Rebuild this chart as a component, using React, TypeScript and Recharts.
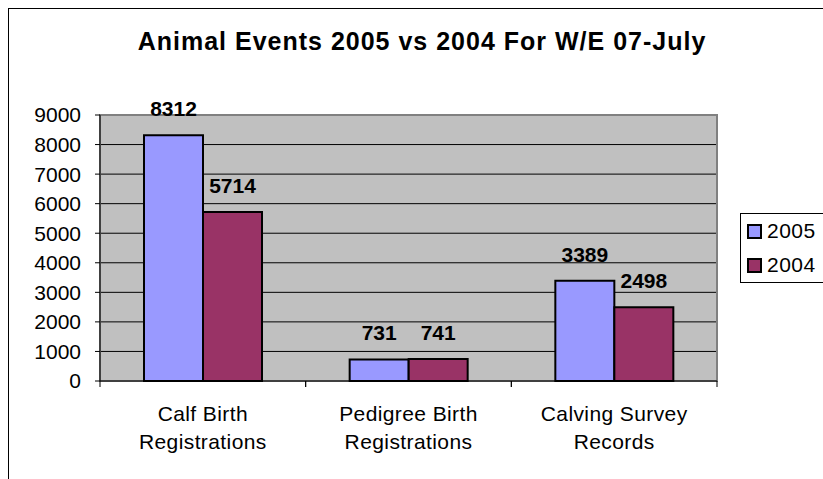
import React from "react";
import {
  BarChart,
  Bar,
  XAxis,
  YAxis,
  CartesianGrid,
  ReferenceArea,
  LabelList,
  Legend,
} from "recharts";

// values
const categories = [
  "Calf Birth\nRegistrations",
  "Pedigree Birth\nRegistrations",
  "Calving Survey\nRecords",
];
const values2005 = [8312, 731, 3389];
const values2004 = [5714, 741, 2498];
const seriesNames = ["2005", "2004"];
const seriesColors = ["#9999FF", "#993366"];
const yTicks = [0, 1000, 2000, 3000, 4000, 5000, 6000, 7000, 8000, 9000];

const data = categories.map((category, i) => ({
  category,
  y2005: values2005[i],
  y2004: values2004[i],
}));

const FONT = '"Liberation Sans", Arial, Helvetica, sans-serif';
const CHART_W = 826;
const CHART_H = 470;
const MARGIN = { top: 106, right: 118, bottom: 0, left: 0 };
const Y_AXIS_W = 91;
const PLOT_W = CHART_W - MARGIN.right - MARGIN.left - Y_AXIS_W;

// category label in two lines, with tick marks at the band edges
function CategoryTick(props: any) {
  const { x, y, payload } = props;
  const half = payload?.offset || PLOT_W / categories.length / 2;
  const lines = String(payload.value).split("\n");
  return (
    <g>
      <line x1={x - half} x2={x - half} y1={y} y2={y + 6} stroke="#000" />
      <line x1={x + half} x2={x + half} y1={y} y2={y + 6} stroke="#000" />
      <text
        x={x}
        y={y}
        textAnchor="middle"
        fontSize={21}
        fontFamily={FONT}
        letterSpacing={0.4}
        fill="#000"
      >
        {lines.map((line, i) => (
          <tspan key={i} x={x} y={y + 40 + i * 28}>
            {line}
          </tspan>
        ))}
      </text>
    </g>
  );
}

function LegendBox() {
  return (
    <div
      style={{
        boxSizing: "border-box",
        width: 100,
        border: "1px solid #000",
        background: "#fff",
        paddingLeft: 6,
        fontFamily: FONT,
        fontSize: 21,
        letterSpacing: 0.5,
        color: "#000",
      }}
    >
      {seriesNames.map((name, i) => (
        <div key={name} style={{ height: 34, display: "flex", alignItems: "center" }}>
          <span
            style={{
              display: "inline-block",
              flex: "none",
              width: 11,
              height: 11,
              border: "2px solid #000",
              background: seriesColors[i],
              marginRight: 5,
            }}
          />
          <span style={{ lineHeight: "34px", whiteSpace: "nowrap" }}>{name}</span>
        </div>
      ))}
    </div>
  );
}

export default function App() {
  return (
    <div
      style={{
        position: "fixed",
        left: 8,
        top: 8,
        width: 815,
        height: 471,
        boxSizing: "border-box",
        borderLeft: "1px solid #000",
        borderTop: "1px solid #000",
        overflow: "hidden",
        background: "#fff",
      }}
    >
      <div
        style={{
          position: "absolute",
          left: 0,
          top: 19,
          width: CHART_W,
          textAlign: "center",
          fontFamily: FONT,
          fontWeight: "bold",
          fontSize: 25,
          lineHeight: 1.117,
          letterSpacing: 1,
          color: "#000",
          zIndex: 2,
        }}
      >
        Animal Events 2005 vs 2004 For W/E 07-July
      </div>
      <BarChart
        width={CHART_W}
        height={CHART_H}
        data={data}
        margin={MARGIN}
        barCategoryGap={44}
        barGap={0}
      >
        <CartesianGrid
          vertical={false}
          stroke="#000"
          strokeOpacity={1}
          fill="#C0C0C0"
          fillOpacity={1}
        />
        <ReferenceArea
          y1={0}
          y2={9000}
          fill="none"
          stroke="#808080"
          strokeWidth={2}
          ifOverflow="visible"
        />
        <XAxis
          dataKey="category"
          height={98}
          interval={0}
          tickSize={0}
          tickMargin={0}
          tickLine={false}
          axisLine={{ stroke: "#000" }}
          tick={<CategoryTick />}
        />
        <YAxis
          width={Y_AXIS_W}
          domain={[0, 9000]}
          ticks={yTicks}
          interval={0}
          tickSize={5}
          tickMargin={14}
          axisLine={{ stroke: "#000" }}
          tickLine={{ stroke: "#000" }}
          tick={{ fill: "#000", fontSize: 21, fontFamily: FONT }}
        />
        <Legend
          layout="vertical"
          align="center"
          verticalAlign="middle"
          wrapperStyle={{ left: 731, top: 204, width: 100 }}
          content={() => <LegendBox />}
        />
        <Bar
          dataKey="y2005"
          name={seriesNames[0]}
          fill={seriesColors[0]}
          stroke="#000"
          strokeWidth={2}
          isAnimationActive={false}
        >
          <LabelList
            dataKey="y2005"
            position="top"
            offset={19}
            fill="#000"
            fontSize={21}
            fontWeight="bold"
            fontFamily={FONT}
          />
        </Bar>
        <Bar
          dataKey="y2004"
          name={seriesNames[1]}
          fill={seriesColors[1]}
          stroke="#000"
          strokeWidth={2}
          isAnimationActive={false}
        >
          <LabelList
            dataKey="y2004"
            position="top"
            offset={19}
            fill="#000"
            fontSize={21}
            fontWeight="bold"
            fontFamily={FONT}
          />
        </Bar>
      </BarChart>
    </div>
  );
}
